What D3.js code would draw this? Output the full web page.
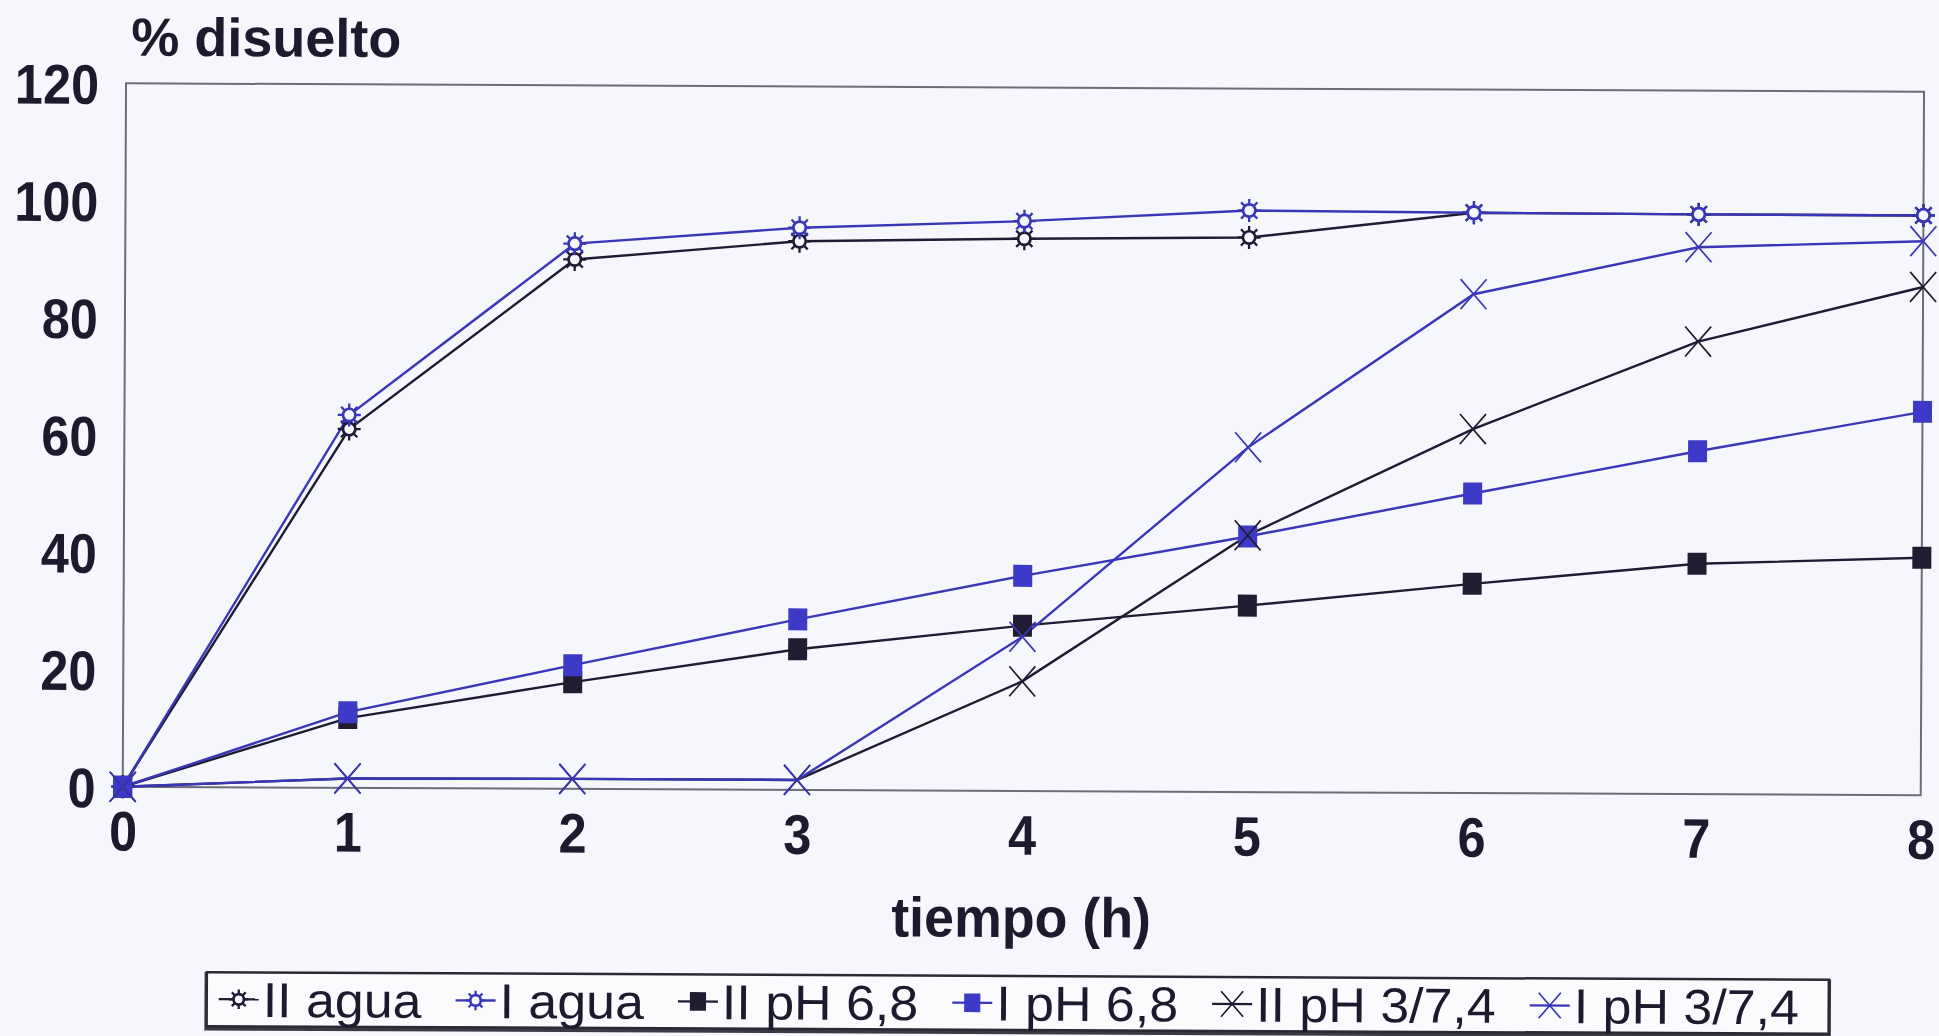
<!DOCTYPE html>
<html><head><meta charset="utf-8">
<script src="https://cdn.jsdelivr.net/npm/d3@7"></script>
<style>
body{margin:0;background:#f6f7fc;}
svg{display:block}
text{font-family:"Liberation Sans",Arial,sans-serif;fill:#1d1a2e}
</style>
</head><body>
<svg id="c" width="1939" height="1036"></svg>
<script>
// ---- data ----
const times = [0,1,2,3,4,5,6,7,8];
const yTicks = [0,20,40,60,80,100,120];
const seriesNames = ["II agua","I agua","II pH 6,8","I pH 6,8","II pH 3/7,4","I pH 3/7,4"];
const iiAgua  = [0,61.2,90.3,93.6,94.2,94.6,99.0,98.9,98.9];
const iAgua   = [0,63.6,93.0,95.9,97.2,99.2,99.0,98.9,98.9];
const iiPh68  = [0,11.9,18.2,24.0,28.2,31.8,35.7,39.3,40.5];
const iPh68   = [0,12.9,21.1,29.1,36.7,43.6,51.1,58.5,65.4];
const iiPh374 = [0,1.6,1.7,1.7,18.7,43.8,62.1,77.2,86.7];
const iPh374  = [0,1.6,1.7,1.7,26.3,58.8,85.1,93.3,94.5];
const yTitle = "% disuelto";
const xTitle = "tiempo (h)";

// ---- styles ----
const BLACK = "#1f1b33", BLUE = "#3a36b8";
const seriesValues = [iiAgua, iAgua, iiPh68, iPh68, iiPh374, iPh374];
const seriesColor = [BLACK, BLUE, BLACK, BLUE, BLACK, BLUE];
const seriesMarker = ["star","star","square","square","x","x"];
const SX = 0.9;

const svg = d3.select("#c");
svg.append("rect").attr("width",1939).attr("height",1036).attr("fill","#f6f7fc");
const root = svg.append("g").attr("transform","rotate(0.27,1023,520)");

const L = 124, R = 1922, T = 87.5, B = 791;
const x = d3.scaleLinear().domain([0,8]).range([L,R]);
const y = d3.scaleLinear().domain([0,120]).range([B,T]);

// plot frame
root.append("rect").attr("x",L).attr("y",T).attr("width",R-L).attr("height",B-T)
  .attr("fill","none").attr("stroke","#6d6d7a").attr("stroke-width",2);

// axes
const ya = root.append("g").attr("transform",`translate(${L},0)`)
  .call(d3.axisLeft(y).tickValues(yTicks).tickSize(0).tickPadding(0));
ya.select(".domain").remove();
ya.selectAll("text").attr("x",0).attr("dy","0.36em")
  .attr("transform",`translate(-27,0) scale(${SX},1)`)
  .style("font-size","56px").style("font-weight","bold").attr("fill","#1d1a2e");

const xa = root.append("g").attr("transform",`translate(0,${B})`)
  .call(d3.axisBottom(x).tickValues(times).tickSize(0).tickPadding(0));
xa.select(".domain").remove();
xa.selectAll("text").attr("y",0).attr("dy","0.71em")
  .attr("transform",`translate(0,24) scale(${SX},1)`)
  .style("font-size","56px").style("font-weight","bold").attr("fill","#1d1a2e");

// titles
root.append("text").text(yTitle)
  .attr("transform",`translate(129,60) scale(1,1)`)
  .style("font-size","54px").style("font-weight","bold");
root.append("text").text(xTitle).attr("text-anchor","middle")
  .attr("transform",`translate(${x(4)},937) scale(0.96,1)`)
  .style("font-size","56px").style("font-weight","bold");

// marker drawing
function marker(g, type, color, s){
  s = s || 1;
  if(type==="star"){
    for(let k=0;k<8;k++){
      const a = k*Math.PI/4;
      g.append("line").attr("x1",6*s*Math.cos(a)).attr("y1",6*s*Math.sin(a))
        .attr("x2",11.5*s*Math.cos(a)).attr("y2",11.5*s*Math.sin(a))
        .attr("stroke",color).attr("stroke-width",2.3);
    }
    g.append("circle").attr("r",6.2*s).attr("fill","#f6f7fc").attr("stroke",color).attr("stroke-width",2.7);
  } else if(type==="square"){
    g.append("rect").attr("x",-9.5*s).attr("y",-11*s).attr("width",19*s).attr("height",22*s)
      .attr("fill", color===BLUE ? "#3c3ac6" : "#221c33");
  } else {
    g.append("path").attr("d",`M${-13*s},${-15*s}L${13*s},${15*s}M${-13*s},${15*s}L${13*s},${-15*s}`)
      .attr("stroke",color).attr("stroke-width",1.7).attr("fill","none");
  }
}

// lines
const line = d3.line().x((d,i)=>x(times[i])).y(d=>y(d));
seriesValues.forEach((vals,si)=>{
  root.append("path").attr("d",line(vals)).attr("fill","none")
    .attr("stroke",seriesColor[si]).attr("stroke-width",2.4);
});
seriesValues.forEach((vals,si)=>{
  vals.forEach((v,i)=>{
    const g = root.append("g").attr("transform",`translate(${x(times[i])},${y(v)})`);
    marker(g, seriesMarker[si], seriesColor[si]);
  });
});

// legend
const lg = root.append("g");
lg.append("rect").attr("x",209).attr("y",978).attr("width",1622).attr("height",54)
  .attr("fill","none").attr("stroke","#3a3a44").attr("stroke-width",4.5);
lg.append("rect").attr("x",209).attr("y",976).attr("width",1622).attr("height",54)
  .attr("fill","#fbfbfe").attr("stroke","#2a2a34").attr("stroke-width",2.5);
let cx = 221;
const ly = 1003;
const LSX = 1.06;
seriesNames.forEach((name,si)=>{
  lg.append("line").attr("x1",cx).attr("x2",cx+40).attr("y1",ly).attr("y2",ly)
    .attr("stroke",seriesColor[si]).attr("stroke-width",2.3);
  marker(lg.append("g").attr("transform",`translate(${cx+20},${ly})`), seriesMarker[si], seriesColor[si], 0.85);
  const t = lg.append("text").text(name)
    .attr("transform",`translate(${cx+44},${ly}) scale(${LSX},1)`)
    .attr("dy","0.36em").style("font-size","49px");
  cx += 44 + t.node().getComputedTextLength()*LSX + 34;
});
</script>
</body></html>
